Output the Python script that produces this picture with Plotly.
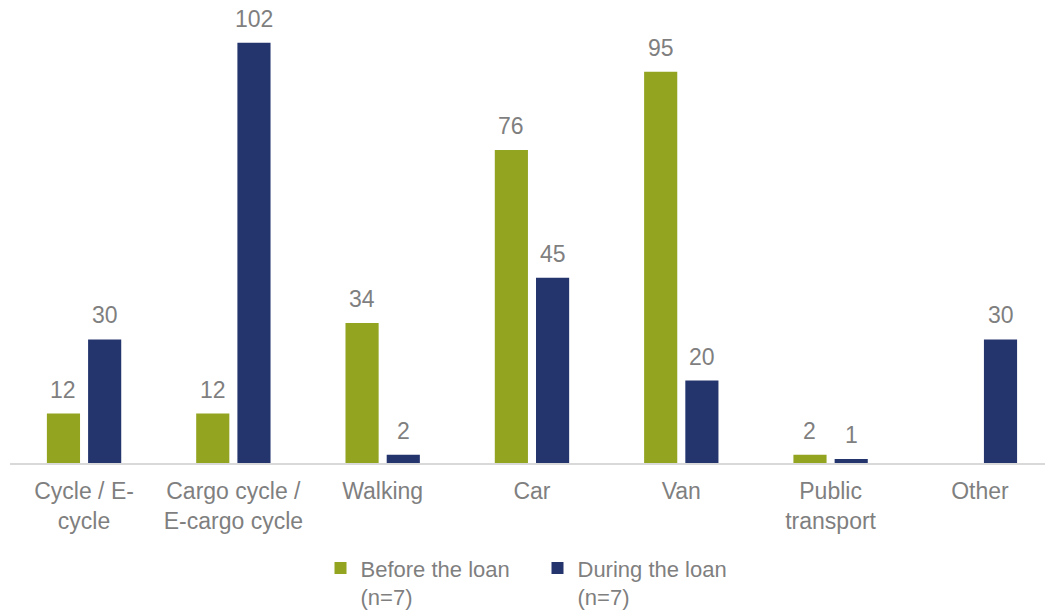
import plotly.graph_objects as go

categories = ["Cycle / E-<br>cycle", "Cargo cycle /<br>E-cargo cycle", "Walking", "Car",
              "Van", "Public<br>transport", "Other"]
before_loan = [12, 12, 34, 76, 95, 2, None]
during_loan = [30, 102, 2, 45, 20, 1, 30]
series_names = ["Before the loan<br>(n=7)", "During the loan<br>(n=7)"]

GREEN = "#93a421"
NAVY = "#24356e"
GREY = "#7f7f7f"
FONT = "Liberation Sans, Arial, sans-serif"

BAR_W = 0.222
OFFSETS = [-0.249, 0.027]
PX_PER_CAT = 149.3

fig = go.Figure()
for name, vals, color, off in zip(series_names, [before_loan, during_loan], [GREEN, NAVY], OFFSETS):
    fig.add_trace(go.Bar(
        x=categories, y=vals, name=name,
        marker=dict(color=color, line=dict(width=0)),
        width=BAR_W, offset=off,
    ))

# value labels above each bar
annotations = []
for vals, off in zip([before_loan, during_loan], OFFSETS):
    for cat, v in zip(categories, vals):
        if v is None:
            continue
        annotations.append(dict(
            x=cat, y=v, xref="x", yref="y", text=str(v), showarrow=False,
            xshift=(off + BAR_W / 2) * PX_PER_CAT, yshift=9, yanchor="bottom",
            font=dict(family=FONT, size=23, color=GREY),
        ))

fig.update_layout(
    width=1045, height=614,
    margin=dict(l=10, r=0, t=0, b=151, autoexpand=False),
    plot_bgcolor="white", paper_bgcolor="white",
    barmode="group",
    showlegend=True,
    legend=dict(
        orientation="h", x=0.3, xanchor="left", y=-0.182, yanchor="top",
        font=dict(family=FONT, size=22, color=GREY), valign="top",
        itemwidth=30, tracegroupgap=0, entrywidth=172,
    ),
    annotations=annotations,
    xaxis=dict(
        type="category", range=[-0.496, 6.436],
        showline=True, linecolor="#d9d9d9", linewidth=2,
        ticks="", showgrid=False, ticklabelstandoff=6,
        tickfont=dict(family=FONT, size=23, color=GREY),
    ),
    yaxis=dict(range=[0, 112.4], visible=False, showgrid=False, zeroline=False),
)

fig.write_html("out.html")
